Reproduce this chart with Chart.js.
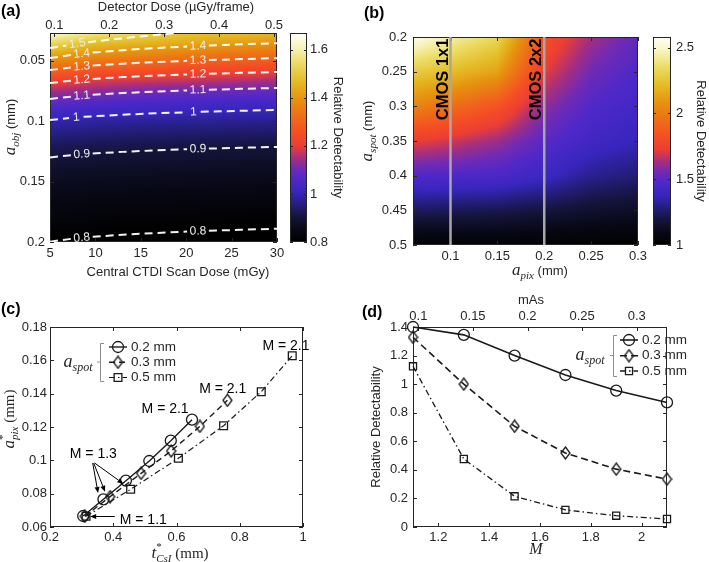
<!DOCTYPE html>
<html>
<head>
<meta charset="utf-8">
<title>Relative detectability</title>
<script src="https://cdn.jsdelivr.net/npm/chart.js@4.4.1/dist/chart.umd.min.js"></script>
<style>
  body { margin: 0; background: #fff; }
  #wrap { position: relative; width: 709px; height: 562px; overflow: hidden; }
  canvas { position: absolute; }
  .tag { position: absolute; z-index: 2; font: bold 16px "Liberation Sans", Arial, sans-serif; color: #000; }
</style>
</head>
<body>
<div id="wrap">
  <canvas id="chartA" width="355" height="290" style="left:0;top:0"></canvas>
  <canvas id="chartB" width="354" height="290" style="left:355px;top:0"></canvas>
  <canvas id="chartC" width="355" height="272" style="left:0;top:290px"></canvas>
  <canvas id="chartD" width="354" height="272" style="left:355px;top:290px"></canvas>
  <div class="tag" style="left:1px;top:2px">(a)</div>
  <div class="tag" style="left:364px;top:4px">(b)</div>
  <div class="tag" style="left:1px;top:300px">(c)</div>
  <div class="tag" style="left:362px;top:303px">(d)</div>
</div>
<script>
const SANS = '"Liberation Sans", Arial, sans-serif';
const SERIF = '"Liberation Serif", "DejaVu Serif", serif';
const INK = '#262626';

// ---- (a) relative detectability vs scan dose and object size ----
const doseA = [5, 10, 15, 20, 25, 30];
const aObjA = [0.027, 0.035, 0.045, 0.055, 0.065, 0.075, 0.085, 0.1, 0.12, 0.14, 0.16, 0.18, 0.2];
const detA = [
  [1.64, 1.57, 1.53, 1.49, 1.475, 1.46],
  [1.54, 1.48, 1.46, 1.44, 1.42, 1.40],
  [1.43, 1.39, 1.37, 1.35, 1.33, 1.32],
  [1.33, 1.29, 1.28, 1.26, 1.25, 1.24],
  [1.23, 1.20, 1.19, 1.18, 1.17, 1.16],
  [1.15, 1.13, 1.11, 1.10, 1.095, 1.09],
  [1.08, 1.06, 1.05, 1.04, 1.035, 1.03],
  [0.995, 0.985, 0.98, 0.976, 0.973, 0.97],
  [0.93, 0.92, 0.915, 0.911, 0.908, 0.905],
  [0.885, 0.879, 0.876, 0.874, 0.872, 0.87],
  [0.855, 0.849, 0.846, 0.844, 0.842, 0.84],
  [0.83, 0.822, 0.818, 0.815, 0.812, 0.81],
  [0.80, 0.794, 0.791, 0.789, 0.787, 0.785]
];
const doseTicksA = [5, 10, 15, 20, 25, 30];
const detectorTicksA = [0.1, 0.2, 0.3, 0.4, 0.5];
const aObjTicksA = [0.05, 0.1, 0.15, 0.2];
const cbarTicksA = [0.8, 1, 1.2, 1.4, 1.6];

// contour lines, null marks where the level label sits
const contourLevels = ['1.5', '1.4', '1.3', '1.2', '1.1', '1', '0.9', '0.8'];
const dose15 = [5, 6.8, 8, 9.2, 11.6, 13.8, 16, 18.2, 18.8];
const c15 = [0.0395, 0.0373, null, 0.0346, 0.0325, 0.0308, 0.0292, 0.0275, 0.0270];
const doseC = [5, 7.3, 8.5, 9.7, 13, 16.5, 20.1, 21.3, 22.5, 26, 30];
const c14 = [0.0478, 0.0452, null, 0.0432, 0.0412, 0.0395, 0.0382, null, 0.0374, 0.0364, 0.0354];
const c13 = [0.0577, 0.0556, null, 0.0540, 0.0524, 0.0511, 0.0500, null, 0.0494, 0.0486, 0.0478];
const c12 = [0.0684, 0.0665, null, 0.0650, 0.0635, 0.0623, 0.0613, null, 0.0608, 0.0600, 0.0593];
const c11 = [0.0816, 0.0797, null, 0.0782, 0.0767, 0.0755, 0.0745, null, 0.0740, 0.0732, 0.0725];
const dose10 = [5, 7.1, 7.9, 8.7, 13, 16.5, 20, 20.8, 21.6, 26, 30];
const c10 = [0.0990, 0.0974, null, 0.0964, 0.0946, 0.0935, 0.0926, null, 0.0922, 0.0914, 0.0907];
const c09 = [0.1300, 0.1282, null, 0.1268, 0.1254, 0.1242, 0.1232, null, 0.1227, 0.1220, 0.1213];
const c08 = [0.1997, 0.1974, null, 0.1957, 0.1940, 0.1926, 0.1914, null, 0.1907, 0.1899, 0.1890];

// ---- (b) relative detectability vs pixel size and focal spot ----
const apixB = [0.06, 0.1, 0.15, 0.2, 0.25, 0.3];
const aspotB = [0.2, 0.25, 0.3, 0.35, 0.4, 0.45, 0.5];
const detB = [
  [2.56, 2.45, 2.33, 1.82, 1.63, 1.52],
  [2.28, 2.22, 2.13, 1.72, 1.55, 1.47],
  [2.03, 1.95, 1.84, 1.60, 1.48, 1.43],
  [1.73, 1.69, 1.62, 1.50, 1.42, 1.37],
  [1.48, 1.47, 1.46, 1.40, 1.31, 1.27],
  [1.24, 1.23, 1.22, 1.19, 1.16, 1.14],
  [1.02, 1.02, 1.02, 1.02, 1.01, 1.01]
];
const apixTicksB = [0.1, 0.15, 0.2, 0.25, 0.3];
const aspotTicksB = [0.2, 0.25, 0.3, 0.35, 0.4, 0.45, 0.5];
const cbarTicksB = [1, 1.5, 2, 2.5];
const cmosPix = [0.1, 0.2];
const cmosLabels = ['CMOS 1x1', 'CMOS 2x2'];

// ---- (c) optimal pixel size vs CsI thickness ----
const spotLabels = ['0.2 mm', '0.3 mm', '0.5 mm'];
const tCsI02 = [0.305, 0.369, 0.440, 0.514, 0.582, 0.649];
const apix02 = [0.0666, 0.0766, 0.0878, 0.0996, 0.1118, 0.1244];
const tCsI03 = [0.310, 0.390, 0.488, 0.583, 0.674, 0.761];
const apix03 = [0.0664, 0.0782, 0.0922, 0.1056, 0.1204, 0.1360];
const tCsI05 = [0.314, 0.455, 0.606, 0.749, 0.868, 0.966];
const apix05 = [0.0664, 0.0826, 0.1012, 0.1208, 0.1412, 0.1628];
const tTicksC = [0.2, 0.4, 0.6, 0.8, 1];
const apixTicksC = [0.06, 0.08, 0.1, 0.12, 0.14, 0.16, 0.18];

// ---- (d) relative detectability vs magnification ----
const magD = [1.1, 1.3, 1.5, 1.7, 1.9, 2.1];
const det02 = [1.40, 1.345, 1.20, 1.064, 0.955, 0.872];
const det03 = [1.328, 1.0, 0.705, 0.518, 0.405, 0.335];
const det05 = [1.125, 0.476, 0.215, 0.12, 0.079, 0.056];
const magTicksD = [1.2, 1.4, 1.6, 1.8, 2];
const masTicksD = [0.1, 0.15, 0.2, 0.25, 0.3];
const detTicksD = [0, 0.2, 0.4, 0.6, 0.8, 1, 1.2, 1.4];

// colour map (fraction, r, g, b)
const cmapStops = [
  [0.00, 0, 0, 0], [0.06, 8, 8, 22], [0.12, 20, 20, 58], [0.18, 36, 30, 125],
  [0.24, 56, 38, 190], [0.30, 78, 40, 200], [0.35, 112, 42, 180], [0.40, 165, 46, 128],
  [0.46, 236, 62, 52], [0.52, 244, 78, 36], [0.60, 238, 110, 24], [0.68, 230, 145, 14],
  [0.77, 228, 188, 38], [0.86, 236, 222, 104], [0.93, 246, 243, 186], [1.00, 255, 255, 250]
];

Chart.defaults.font.family = SANS;
Chart.defaults.color = INK;

const fmt = v => String(Number(Number(v).toFixed(4)));

function cmap(f) {
  f = Math.max(0, Math.min(1, f));
  for (let i = 1; i < cmapStops.length; i++) {
    const b = cmapStops[i];
    if (f <= b[0]) {
      const a = cmapStops[i - 1];
      const t = (f - a[0]) / (b[0] - a[0]);
      return [1, 2, 3].map(k => Math.round(a[k] + (b[k] - a[k]) * t));
    }
  }
  return [255, 255, 255];
}

function seg(arr, v) {
  let i = 0;
  while (i < arr.length - 2 && v > arr[i + 1]) i++;
  return i;
}

function gridValue(xs, ys, z, x, y) {
  const i = seg(xs, x), j = seg(ys, y);
  const tx = Math.max(0, Math.min(1, (x - xs[i]) / (xs[i + 1] - xs[i])));
  const ty = Math.max(0, Math.min(1, (y - ys[j]) / (ys[j + 1] - ys[j])));
  const top = z[j][i] * (1 - tx) + z[j][i + 1] * tx;
  const bot = z[j + 1][i] * (1 - tx) + z[j + 1][i + 1] * tx;
  return top * (1 - ty) + bot * ty;
}

// one linear axis with a fixed box size and explicit ticks
function axis(o) {
  const grid = o.tickLen
    ? { display: true, drawOnChartArea: false, drawTicks: true, tickLength: o.tickLen, tickColor: 'rgba(0,0,0,0)' }
    : { display: false, drawTicks: false };
  return {
    type: 'linear', position: o.position, axis: o.axis,
    min: o.min, max: o.max, reverse: !!o.reverse,
    afterBuildTicks: s => { s.ticks = o.ticks.map(v => ({ value: v })); },
    afterFit: s => { if (s.isHorizontal()) s.height = o.size; else s.width = o.size; },
    grid,
    border: { display: false },
    ticks: { padding: o.pad || 0, autoSkip: false, maxRotation: 0, color: INK, font: { size: 13 }, callback: fmt },
    title: o.title
      ? { display: true, text: o.title, color: INK, font: { size: 13 }, padding: o.titlePad }
      : { display: false }
  };
}

function richText(ctx, parts, cx, cy, rot) {
  ctx.save();
  ctx.translate(cx, cy);
  ctx.rotate(rot || 0);
  let w = 0;
  parts.forEach(p => { ctx.font = p.f; p.w = ctx.measureText(p.t).width; if (!p.keep) w += p.w; });
  let x = -w / 2;
  ctx.textBaseline = 'alphabetic';
  ctx.fillStyle = INK;
  parts.forEach(p => {
    ctx.font = p.f;
    ctx.fillText(p.t, x, 5 + (p.dy || 0));
    if (!p.keep) x += p.w;
  });
  ctx.restore();
}

const mathA = `italic 17px ${SERIF}`;
const mathSub = `italic 11px ${SERIF}`;
const plain13 = `13px ${SANS}`;
const spotParts = [{ t: 'a', f: `italic 18px ${SERIF}` }, { t: 'spot', f: `italic 12px ${SERIF}`, dy: 4 }];

function heatPlugin(xs, ys, z, bar) {
  return {
    id: 'heat',
    beforeDatasetsDraw(chart) {
      const { ctx, chartArea: ca, scales } = chart;
      const cb = scales.cb;
      const w = Math.round(ca.right - ca.left), h = Math.round(ca.bottom - ca.top);
      const off = document.createElement('canvas');
      off.width = w; off.height = h;
      const octx = off.getContext('2d');
      const img = octx.createImageData(w, h);
      for (let j = 0; j < h; j++) {
        const yv = scales.y.getValueForPixel(ca.top + j + 0.5);
        for (let i = 0; i < w; i++) {
          const xv = scales.x.getValueForPixel(ca.left + i + 0.5);
          const c = cmap((gridValue(xs, ys, z, xv, yv) - cb.min) / (cb.max - cb.min));
          const k = (j * w + i) * 4;
          img.data[k] = c[0]; img.data[k + 1] = c[1]; img.data[k + 2] = c[2]; img.data[k + 3] = 255;
        }
      }
      octx.putImageData(img, 0, 0);
      ctx.drawImage(off, ca.left, ca.top);
      // colour bar
      ctx.save();
      const t0 = Math.round(cb.top), t1 = Math.round(cb.bottom);
      for (let j = t0; j < t1; j++) {
        const c = cmap((cb.getValueForPixel(j + 0.5) - cb.min) / (cb.max - cb.min));
        ctx.fillStyle = `rgb(${c[0]},${c[1]},${c[2]})`;
        ctx.fillRect(bar[0], j, bar[1] - bar[0], 1);
      }
      ctx.strokeStyle = INK; ctx.lineWidth = 1;
      ctx.strokeRect(bar[0] + 0.5, t0 + 0.5, bar[1] - bar[0] - 1, t1 - t0 - 1);
      cb.ticks.forEach(t => {
        const p = Math.round(cb.getPixelForValue(t.value)) + 0.5;
        ctx.beginPath();
        ctx.moveTo(bar[0], p); ctx.lineTo(bar[0] + 3, p);
        ctx.moveTo(bar[1], p); ctx.lineTo(bar[1] - 3, p);
        ctx.stroke();
      });
      ctx.restore();
    }
  };
}

const framePlugin = {
  id: 'frame',
  beforeDatasetsDraw(chart, args, o) {
    const { ctx, chartArea: a, scales } = chart;
    ctx.save();
    ctx.strokeStyle = o.color || INK;
    ctx.lineWidth = 1;
    ctx.strokeRect(a.left + 0.5, a.top + 0.5, a.right - a.left - 1, a.bottom - a.top - 1);
    const L = 4;
    (o.ticks || []).forEach(([id, side]) => {
      const s = scales[id];
      s.ticks.forEach(t => {
        const p = Math.round(s.getPixelForValue(t.value)) + 0.5;
        ctx.beginPath();
        if (side === 'bottom') { ctx.moveTo(p, a.bottom); ctx.lineTo(p, a.bottom - L); }
        if (side === 'top') { ctx.moveTo(p, a.top); ctx.lineTo(p, a.top + L); }
        if (side === 'left') { ctx.moveTo(a.left, p); ctx.lineTo(a.left + L, p); }
        if (side === 'right') { ctx.moveTo(a.right, p); ctx.lineTo(a.right - L, p); }
        ctx.stroke();
      });
    });
    ctx.restore();
  }
};

const titlePlugin = {
  id: 'richTitles',
  afterDraw(chart, args, o) {
    o.items.forEach(it => richText(chart.ctx, it.parts, it.x, it.y, it.rot));
  }
};

const contourLabelPlugin = {
  id: 'clabel',
  afterDatasetsDraw(chart) {
    const { ctx, scales: { x, y } } = chart;
    ctx.save();
    ctx.font = `12px ${SANS}`;
    ctx.fillStyle = '#ececec';
    ctx.textAlign = 'center';
    ctx.textBaseline = 'middle';
    chart.data.datasets.forEach(ds => {
      ds.data.forEach((p, i) => {
        if (p.y !== null) return;
        const a = ds.data[i - 1], b = ds.data[i + 1];
        const ax = x.getPixelForValue(a.x), ay = y.getPixelForValue(a.y);
        const bx = x.getPixelForValue(b.x), by = y.getPixelForValue(b.y);
        ctx.save();
        ctx.translate(x.getPixelForValue(p.x), (ay + by) / 2);
        ctx.rotate(Math.atan2(by - ay, bx - ax));
        ctx.fillText(ds.label, 0, 0);
        ctx.restore();
      });
    });
    ctx.restore();
  }
};

const cmosPlugin = {
  id: 'cmos',
  afterDatasetsDraw(chart, args, o) {
    const { ctx, scales: { x, y } } = chart;
    ctx.save();
    ctx.font = `bold 16.5px ${SANS}`;
    ctx.fillStyle = '#000';
    ctx.textAlign = 'left';
    ctx.textBaseline = 'alphabetic';
    cmosPix.forEach((v, i) => {
      ctx.save();
      ctx.translate(x.getPixelForValue(v) - 3, y.getPixelForValue(o.start));
      ctx.rotate(-Math.PI / 2);
      ctx.fillText(cmosLabels[i], 0, 0);
      ctx.restore();
    });
    ctx.restore();
  }
};

const legendPlugin = {
  id: 'spotLegend',
  afterDatasetsDraw(chart, args, o) {
    const ctx = chart.ctx;
    ctx.save();
    ctx.strokeStyle = '#8c8c8c';
    ctx.lineWidth = 1;
    const mid = (o.top + o.bottom) / 2;
    ctx.beginPath();
    ctx.moveTo(o.bx + 4, o.top + 0.5); ctx.lineTo(o.bx + 0.5, o.top + 0.5);
    ctx.lineTo(o.bx + 0.5, o.bottom + 0.5); ctx.lineTo(o.bx + 4, o.bottom + 0.5);
    ctx.moveTo(o.bx + 0.5, mid); ctx.lineTo(o.bx - 3, mid);
    ctx.stroke();
    richText(ctx, spotParts, o.tx, o.ty, 0);
    chart.data.datasets.forEach((ds, i) => {
      const y = o.rows[i];
      ctx.strokeStyle = ds.borderColor;
      ctx.lineWidth = ds.borderWidth;
      ctx.setLineDash(ds.borderDash || []);
      ctx.beginPath(); ctx.moveTo(o.lx0, y); ctx.lineTo(o.lx1, y); ctx.stroke();
      ctx.setLineDash([]);
      ctx.fillStyle = 'rgba(0,0,0,0)';
      ctx.lineWidth = ds.pointBorderWidth;
      Chart.helpers.drawPoint(ctx, { pointStyle: ds.pointStyle, radius: ds.pointRadius, borderWidth: ds.pointBorderWidth, rotation: 0 }, (o.lx0 + o.lx1) / 2, y);
      ctx.fillStyle = INK;
      ctx.font = `13.5px ${SANS}`;
      ctx.textAlign = 'left';
      ctx.textBaseline = 'middle';
      ctx.fillText(ds.label, o.textX, y);
    });
    ctx.restore();
  }
};

function arrow(ctx, x0, y0, x1, y1) {
  const ang = Math.atan2(y1 - y0, x1 - x0), L = 6, W = 2.5;
  const bx = x1 - L * Math.cos(ang), by = y1 - L * Math.sin(ang);
  ctx.beginPath(); ctx.moveTo(x0, y0); ctx.lineTo(bx, by); ctx.stroke();
  ctx.beginPath();
  ctx.moveTo(x1, y1);
  ctx.lineTo(bx + W * Math.sin(ang), by - W * Math.cos(ang));
  ctx.lineTo(bx - W * Math.sin(ang), by + W * Math.cos(ang));
  ctx.closePath(); ctx.fill();
}

const notePlugin = {
  id: 'notes',
  afterDatasetsDraw(chart, args, o) {
    const { ctx, scales: { x, y } } = chart;
    ctx.save();
    ctx.fillStyle = '#000'; ctx.strokeStyle = '#000'; ctx.lineWidth = 1;
    ctx.font = `14px ${SANS}`; ctx.textAlign = 'center'; ctx.textBaseline = 'middle';
    o.texts.forEach(t => ctx.fillText(t.text, x.getPixelForValue(t.x), y.getPixelForValue(t.y)));
    o.arrows.forEach(a => arrow(ctx, x.getPixelForValue(a[0]), y.getPixelForValue(a[1]), x.getPixelForValue(a[2]), y.getPixelForValue(a[3])));
    ctx.restore();
  }
};

function diamond(w, h) {
  const c = document.createElement('canvas');
  c.width = w + 2; c.height = h + 2;
  const g = c.getContext('2d');
  g.strokeStyle = '#1a1a1a'; g.lineWidth = 1.3;
  g.beginPath();
  g.moveTo(c.width / 2, 1); g.lineTo(c.width - 1, c.height / 2);
  g.lineTo(c.width / 2, c.height - 1); g.lineTo(1, c.height / 2);
  g.closePath(); g.stroke();
  return c;
}

function seriesSet(label, xs, ys, dash, style, radius, width) {
  return {
    label, data: xs.map((v, i) => ({ x: v, y: ys[i] })),
    showLine: true, borderColor: '#1a1a1a', borderWidth: width, borderDash: dash,
    pointStyle: style, pointRadius: radius, pointBorderWidth: 1.3,
    pointBorderColor: '#1a1a1a', pointBackgroundColor: 'rgba(0,0,0,0)',
    clip: false, tension: 0
  };
}

const base = { animation: false, responsive: false, devicePixelRatio: 1, events: [] };

// ---------- (a) ----------
function contourSet(label, xs, ys) {
  return {
    label, data: xs.map((v, i) => ({ x: v, y: ys[i] })),
    showLine: true, borderColor: 'rgba(255,255,255,0.95)', borderWidth: 2, borderDash: [8, 5],
    pointRadius: 0, clip: 0
  };
}
const contourSeries = [[dose15, c15], [doseC, c14], [doseC, c13], [doseC, c12], [doseC, c11], [dose10, c10], [doseC, c09], [doseC, c08]];

new Chart(document.getElementById('chartA'), {
  type: 'scatter',
  data: { datasets: contourSeries.map((s, i) => contourSet(contourLevels[i], s[0], s[1])) },
  options: Object.assign({}, base, {
    layout: { padding: 0 },
    plugins: {
      legend: { display: false }, tooltip: { enabled: false },
      frame: { ticks: [['x', 'bottom'], ['x2', 'top'], ['y', 'left'], ['y', 'right']] },
      richTitles: { items: [
        { parts: [{ t: 'a', f: mathA }, { t: 'obj', f: mathSub, dy: 4 }, { t: ' (mm)', f: plain13 }], x: 10, y: 127, rot: -Math.PI / 2 },
        { parts: [{ t: 'Central CTDI Scan Dose (mGy)', f: plain13 }], x: 178, y: 271, rot: 0 },
        { parts: [{ t: 'Detector Dose (µGy/frame)', f: plain13 }], x: 176, y: 6, rot: 0 }
      ] }
    },
    scales: {
      x: axis({ position: 'bottom', min: 5, max: 30, ticks: doseTicksA, size: 48, pad: 4 }),
      x2: axis({ position: 'top', axis: 'x', min: 0.092, max: 0.5055, ticks: detectorTicksA, size: 33, pad: 0 }),
      y: axis({ position: 'left', min: 0.027, max: 0.2, reverse: true, ticks: aObjTicksA, size: 50, pad: 5 }),
      cb: axis({ position: 'right', axis: 'y', min: 0.8, max: 1.67, ticks: cbarTicksA, size: 78, tickLen: 33,
        title: 'Relative Detectability', titlePad: { top: 10, bottom: 0 } })
    }
  }),
  plugins: [heatPlugin(doseA, aObjA, detA, [290, 307]), framePlugin, contourLabelPlugin, titlePlugin]
});

// ---------- (b) ----------
new Chart(document.getElementById('chartB'), {
  type: 'scatter',
  data: { datasets: cmosPix.map(v => ({
    data: [{ x: v, y: 0.2 }, { x: v, y: 0.5 }], showLine: true,
    borderColor: '#a8a8a8', borderWidth: 2.5, pointRadius: 0, clip: 0
  })) },
  options: Object.assign({}, base, {
    layout: { padding: { top: 37 } },
    plugins: {
      legend: { display: false }, tooltip: { enabled: false },
      frame: { ticks: [['x', 'bottom'], ['x', 'top'], ['y', 'left'], ['y', 'right']] },
      cmos: { start: 0.32 },
      richTitles: { items: [
        { parts: [{ t: 'a', f: mathA }, { t: 'spot', f: mathSub, dy: 4 }, { t: ' (mm)', f: plain13 }], x: 12, y: 131, rot: -Math.PI / 2 },
        { parts: [{ t: 'a', f: mathA }, { t: 'pix', f: mathSub, dy: 4 }, { t: ' (mm)', f: plain13 }], x: 185, y: 270, rot: 0 }
      ] }
    },
    scales: {
      x: axis({ position: 'bottom', min: 0.06, max: 0.3, ticks: apixTicksB, size: 45, pad: 4 }),
      y: axis({ position: 'left', min: 0.2, max: 0.5, reverse: true, ticks: aspotTicksB, size: 58, pad: 6 }),
      cb: axis({ position: 'right', axis: 'y', min: 1.0, max: 2.58, ticks: cbarTicksB, size: 71, tickLen: 38,
        title: 'Relative Detectability', titlePad: { top: 1, bottom: 0 } })
    }
  }),
  plugins: [heatPlugin(apixB, aspotB, detB, [298, 316]), framePlugin, cmosPlugin, titlePlugin]
});

// ---------- (c) ----------
const diamondC = diamond(9, 12);
new Chart(document.getElementById('chartC'), {
  type: 'scatter',
  data: { datasets: [
    seriesSet(spotLabels[0], tCsI02, apix02, [], 'circle', 5.5, 1.4),
    seriesSet(spotLabels[1], tCsI03, apix03, [6, 4], diamondC, 6, 1.4),
    seriesSet(spotLabels[2], tCsI05, apix05, [6, 3, 1.5, 3], 'rect', 5.5, 1.2)
  ] },
  options: Object.assign({}, base, {
    layout: { padding: { top: 37, right: 52 } },
    plugins: {
      legend: { display: false }, tooltip: { enabled: false },
      frame: { ticks: [['x', 'bottom'], ['x', 'top'], ['y', 'left'], ['y', 'right']] },
      spotLegend: { bx: 100, top: 53, bottom: 91, tx: 78, ty: 72, lx0: 109, lx1: 127, textX: 131, rows: [57, 72.3, 87.5] },
      notes: {
        texts: [
          { text: 'M = 2.1', x: 0.564, y: 0.1306 },
          { text: 'M = 2.1', x: 0.746, y: 0.1426 },
          { text: 'M = 2.1', x: 0.946, y: 0.1686 },
          { text: 'M = 1.3', x: 0.337, y: 0.1038 },
          { text: 'M = 1.1', x: 0.495, y: 0.0642 }
        ],
        arrows: [
          [0.335, 0.0984, 0.352, 0.0804],
          [0.338, 0.0984, 0.374, 0.0812],
          [0.341, 0.0984, 0.432, 0.0860],
          [0.405, 0.0663, 0.327, 0.0663]
        ]
      },
      richTitles: { items: [
        { parts: [{ t: 'a', f: mathA }, { t: '*', f: `11px ${SERIF}`, dy: -8, keep: true }, { t: 'pix', f: mathSub, dy: 4 }, { t: ' (mm)', f: `15px ${SERIF}` }], x: 9, y: 129, rot: -Math.PI / 2 },
        { parts: [{ t: 't', f: mathA }, { t: '*', f: `11px ${SERIF}`, dy: -8, keep: true }, { t: 'CsI', f: mathSub, dy: 4 }, { t: ' (mm)', f: `15px ${SERIF}` }], x: 180, y: 263, rot: 0 }
      ] }
    },
    scales: {
      x: axis({ position: 'bottom', min: 0.2, max: 1, ticks: tTicksC, size: 35, pad: 2.5 }),
      y: axis({ position: 'left', min: 0.06, max: 0.18, ticks: apixTicksC, size: 50, pad: 3 })
    }
  }),
  plugins: [framePlugin, legendPlugin, notePlugin, titlePlugin]
});

// ---------- (d) ----------
const diamondD = diamond(9, 12);
new Chart(document.getElementById('chartD'), {
  type: 'scatter',
  data: { datasets: [
    seriesSet(spotLabels[0], magD, det02, [], 'circle', 5.5, 1.6),
    seriesSet(spotLabels[1], magD, det03, [7, 4], diamondD, 6, 1.6),
    seriesSet(spotLabels[2], magD, det05, [6, 3, 1.5, 3], 'rect', 5, 1.3)
  ] },
  options: Object.assign({}, base, {
    layout: { padding: { right: 42 } },
    plugins: {
      legend: { display: false }, tooltip: { enabled: false },
      frame: { ticks: [['x', 'bottom'], ['x2', 'top'], ['y', 'left'], ['y', 'right']] },
      spotLegend: { bx: 258, top: 45, bottom: 86, tx: 235, ty: 65, lx0: 265, lx1: 283, textX: 287, rows: [50, 65.7, 81] },
      richTitles: { items: [
        { parts: [{ t: 'M', f: `italic 16px ${SERIF}` }], x: 181, y: 259, rot: 0 },
        { parts: [{ t: 'mAs', f: plain13 }], x: 176, y: 9, rot: 0 }
      ] }
    },
    scales: {
      x: axis({ position: 'bottom', min: 1.1, max: 2.1, ticks: magTicksD, size: 35, pad: 3 }),
      x2: axis({ position: 'top', axis: 'x', min: 0.0951, max: 0.3277, ticks: masTicksD, size: 37, pad: 3 }),
      y: axis({ position: 'left', min: 0, max: 1.4, ticks: detTicksD, size: 58, pad: 5,
        title: 'Relative Detectability', titlePad: { top: 14, bottom: 0 } })
    }
  }),
  plugins: [framePlugin, legendPlugin, titlePlugin]
});
</script>
</body>
</html>
